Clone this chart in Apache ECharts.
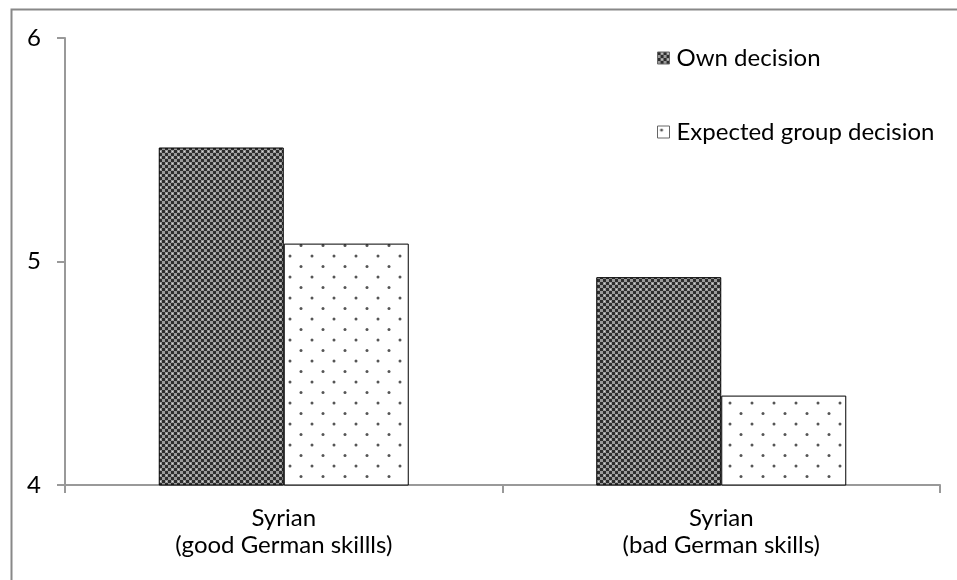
<!DOCTYPE html>
<html>
<head>
<meta charset="utf-8">
<script src="https://cdn.jsdelivr.net/npm/echarts@6/dist/echarts.min.js"></script>
<style>
html,body{margin:0;padding:0;background:#fff;}
#chart{width:957px;height:580px;}
</style>
</head>
<body>
<div id="chart"></div>
<script>
const categories = ['Syrian\n(good German skillls)', 'Syrian\n(bad German skills)'];
const seriesNames = ['Own decision', 'Expected group decision'];
const ownDecision = [5.51, 4.93];
const expectedGroup = [5.08, 4.40];
const yTicks = [4, 5, 6];

function checkerPattern() {
  const c = document.createElement('canvas');
  c.width = 6; c.height = 6;
  const g = c.getContext('2d');
  g.fillStyle = '#9a9a9a'; g.fillRect(0, 0, 6, 6);
  g.fillStyle = '#2e2e2e';
  g.fillRect(0, 0, 3, 3); g.fillRect(3, 3, 3, 3);
  g.fillStyle = '#d8d8d8';
  g.fillRect(4, 1, 1, 1);
  return c;
}
function dotPattern() {
  const c = document.createElement('canvas');
  c.width = 22; c.height = 21;
  const g = c.getContext('2d');
  g.fillStyle = '#ffffff'; g.fillRect(0, 0, 22, 21);
  g.fillStyle = '#555';
  g.beginPath(); g.arc(4, 4, 1.5, 0, Math.PI * 2); g.fill();
  g.beginPath(); g.arc(15, 14.5, 1.5, 0, Math.PI * 2); g.fill();
  return c;
}

const chart = echarts.init(document.getElementById('chart'), null, {renderer: 'canvas'});
const font = 'Lato, sans-serif';
chart.setOption({
  animation: false,
  backgroundColor: '#fff',
  textStyle: {fontFamily: font},
  graphic: [{
    type: 'rect', left: 9, top: 7,
    shape: {width: 960, height: 580},
    style: {fill: 'none', stroke: '#888', lineWidth: 2}
  }],
  grid: {left: 65, right: 17, top: 38, bottom: 95, containLabel: false},
  legend: {
    orient: 'vertical', left: 652, top: 41,
    icon: 'rect',
    itemWidth: 12, itemHeight: 12, itemGap: 50,
    itemStyle: {borderColor: '#666', borderWidth: 1},
    textStyle: {fontSize: 24, color: '#000', fontFamily: font, padding: [0, 0, 0, 2]},
    data: seriesNames
  },
  xAxis: {
    type: 'category', data: categories,
    axisLine: {lineStyle: {color: '#999', width: 2}},
    axisTick: {show: true, length: 8, lineStyle: {color: '#999', width: 2}},
    axisLabel: {fontSize: 24, color: '#000', lineHeight: 27, margin: 20, fontFamily: font}
  },
  yAxis: {
    type: 'value', min: 4, max: 6, interval: 1,
    axisLine: {show: true, lineStyle: {color: '#999', width: 2}},
    axisTick: {show: true, length: 8, lineStyle: {color: '#999', width: 2}},
    splitLine: {show: false},
    axisLabel: {fontSize: 24, color: '#000', margin: 24, fontFamily: font,
      formatter: v => yTicks.includes(v) ? String(v) : ''}
  },
  series: [{
    name: seriesNames[0], type: 'bar', data: ownDecision,
    barWidth: 125, barGap: '0%',
    itemStyle: {color: {image: checkerPattern(), repeat: 'repeat'}, borderColor: '#000', borderWidth: 1}
  }, {
    name: seriesNames[1], type: 'bar', data: expectedGroup,
    barWidth: 125, barGap: '0%',
    itemStyle: {color: {image: dotPattern(), repeat: 'repeat'}, borderColor: '#000', borderWidth: 1}
  }]
});
</script>
</body>
</html>
